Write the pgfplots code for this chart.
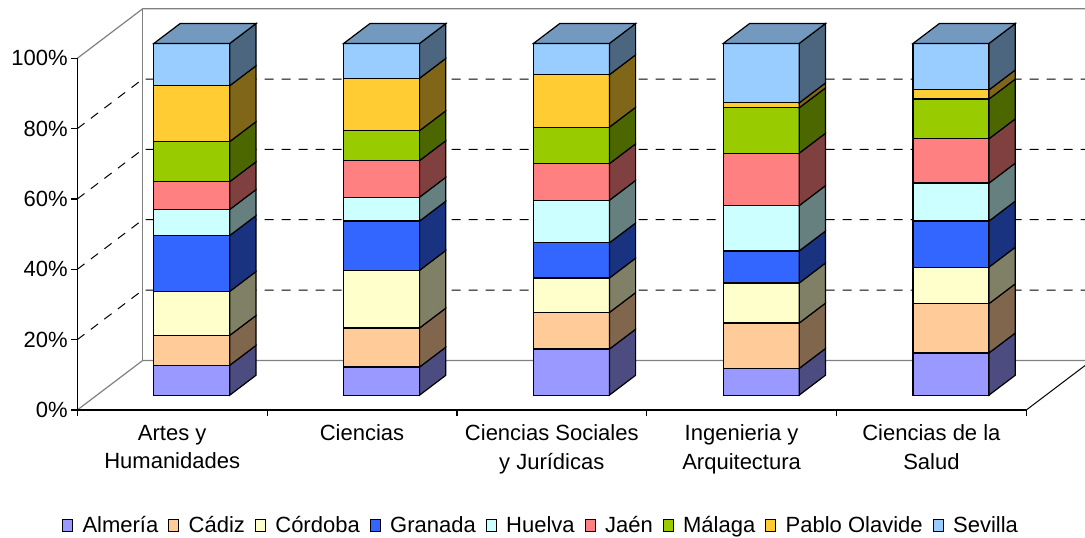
\documentclass[border=0pt]{standalone}
\usepackage{pgfplots}
\usepackage{pgfplotstable}
\pgfplotsset{compat=1.18}
\usepackage{fontspec}
\setmainfont{Liberation Sans}

\definecolor{c0}{HTML}{9999FF}
\definecolor{c1}{HTML}{FFCC99}
\definecolor{c2}{HTML}{FFFFCC}
\definecolor{c3}{HTML}{3366FF}
\definecolor{c4}{HTML}{CCFFFF}
\definecolor{c5}{HTML}{FF8080}
\definecolor{c6}{HTML}{99CC00}
\definecolor{c7}{HTML}{FFCC33}
\definecolor{c8}{HTML}{99CCFF}

% rows: Artes y Humanidades, Ciencias, Ciencias Sociales y Juridicas, Ingenieria y Arquitectura, Ciencias de la Salud
\pgfplotstableread{
Almeria Cadiz Cordoba Granada Huelva Jaen Malaga Pablo Sevilla
8.5 8.5 12.5 15.9 7.4 7.9 11.4 15.9 12.0
8.0 11.1 16.4 14.0 6.8 10.4 8.5 14.9 9.9
13.1 10.4 9.8 10.0 12.1 10.4 10.4 14.9 8.9
7.6 12.9 11.4 9.1 12.9 14.9 12.9 1.4 16.9
12.0 14.0 10.4 13.1 10.8 12.6 11.3 2.6 13.2
}\data

\def\dx{0.3451}
\def\dz{14.1}

\begin{document}
\begin{tikzpicture}
\useasboundingbox (0,0) rectangle (1085pt,538pt);
\begin{axis}[
  at={(77.3pt,128pt)}, anchor=south west,
  x=189.8pt, y=3.517pt,
  xmin=0, xmax=5.309, ymin=0, ymax=116.6,
  clip=false,
  axis line style={draw=none},
  tick pos=left, tick align=outside,
  major tick length=6pt,
  tick style={black, line width=1.2pt},
  xtick={0,1,2,3,4,5}, xticklabels={},
  extra x ticks={0.5,1.5,2.5,3.5,4.5},
  extra x tick labels={{Artes y\\Humanidades},{Ciencias},{Ciencias Sociales\\y Jurídicas},{Ingenieria y\\Arquitectura},{Ciencias de la\\Salud}},
  extra x tick style={major tick length=0pt},
  xticklabel style={align=center, font=\fontsize{22}{28.5}\selectfont, yshift=-11.5pt},
  ytick={0,20,40,60,80,100},
  yticklabels={0\%,20\%,40\%,60\%,80\%,100\%},
  yticklabel style={font=\fontsize{22}{26}\selectfont},
  legend entries={Almería,Cádiz,Córdoba,Granada,Huelva,Jaén,Málaga,Pablo Olavide,Sevilla},
  legend columns=9,
  legend image code/.code={\draw[#1, draw=black, line width=0.9pt] (0pt,-6pt) rectangle (10pt,6pt);},
  legend style={draw=none, fill=none, at={(0.4602,-0.282)}, anchor=center,
    font=\fontsize{22}{26}\selectfont,
    /tikz/every odd column/.append style={column sep=7.5pt},
    /tikz/every even column/.append style={column sep=8pt}},
]
% walls and gridlines
\addplot[forget plot, draw=gray, line width=1.2pt] coordinates {(0,0) (0.3451,14.1) (5.3451,14.1)};
\addplot[forget plot, draw=gray, line width=1.2pt] coordinates {(0,100) (0.3451,114.1) (5.3451,114.1)};
\addplot[forget plot, draw=gray, line width=1.2pt] coordinates {(0.3451,14.1) (0.3451,114.1)};
\addplot[forget plot, draw=black, line width=1pt, dash pattern=on 9pt off 8pt] coordinates {(0,20) (0.3451,34.1) (5.3451,34.1)};
\addplot[forget plot, draw=black, line width=1pt, dash pattern=on 9pt off 8pt] coordinates {(0,40) (0.3451,54.1) (5.3451,54.1)};
\addplot[forget plot, draw=black, line width=1pt, dash pattern=on 9pt off 8pt] coordinates {(0,60) (0.3451,74.1) (5.3451,74.1)};
\addplot[forget plot, draw=black, line width=1pt, dash pattern=on 9pt off 8pt] coordinates {(0,80) (0.3451,94.1) (5.3451,94.1)};
\addplot[forget plot, draw=black, line width=1pt] coordinates {(5,0) (5.3451,14.1)};
\addplot[forget plot, draw=black, line width=1.3pt] coordinates {(0,100) (0,0) (5,0)};
% bars
\foreach \j in {0,1,2,3,4}{%
  \gdef\cum{0}%
  \pgfmathsetmacro\xl{\j+0.3+0.3*\dx}%
  \pgfmathsetmacro\xr{\j+0.7+0.3*\dx}%
  \pgfmathsetmacro\xbl{\j+0.3+0.7*\dx}%
  \pgfmathsetmacro\xbr{\j+0.7+0.7*\dx}%
  \foreach \k in {0,...,8}{%
    \pgfplotstablegetelem{\j}{[index]\k}\of\data
    \pgfmathsetmacro\ya{\cum+0.3*\dz}%
    \pgfmathsetmacro\yb{\cum+\pgfplotsretval+0.3*\dz}%
    \pgfmathsetmacro\yc{\cum+0.7*\dz}%
    \pgfmathsetmacro\yd{\cum+\pgfplotsretval+0.7*\dz}%
    \pgfmathsetmacro\newcum{\cum+\pgfplotsretval}%
    \xdef\cum{\newcum}%
    \ifnum\j=0 \def\fp{}\else\def\fp{forget plot,}\fi
    \edef\temp{\noexpand\addplot[\fp fill=c\k, draw=black, line width=1.2pt] coordinates {(\xl,\ya) (\xr,\ya) (\xr,\yb) (\xl,\yb)} -- cycle;}%
    \temp
    \edef\temp{\noexpand\addplot[forget plot, fill=c\k!50!black, draw=black, line width=1.2pt] coordinates {(\xr,\ya) (\xbr,\yc) (\xbr,\yd) (\xr,\yb)} -- cycle;}%
    \temp
  }%
  \pgfmathsetmacro\ya{\cum+0.3*\dz}%
  \pgfmathsetmacro\yc{\cum+0.7*\dz}%
  \edef\temp{\noexpand\addplot[forget plot, fill=c8!75!black, draw=black, line width=1.2pt] coordinates {(\xl,\ya) (\xr,\ya) (\xbr,\yc) (\xbl,\yc)} -- cycle;}%
  \temp
}
\end{axis}
\end{tikzpicture}
\end{document}
